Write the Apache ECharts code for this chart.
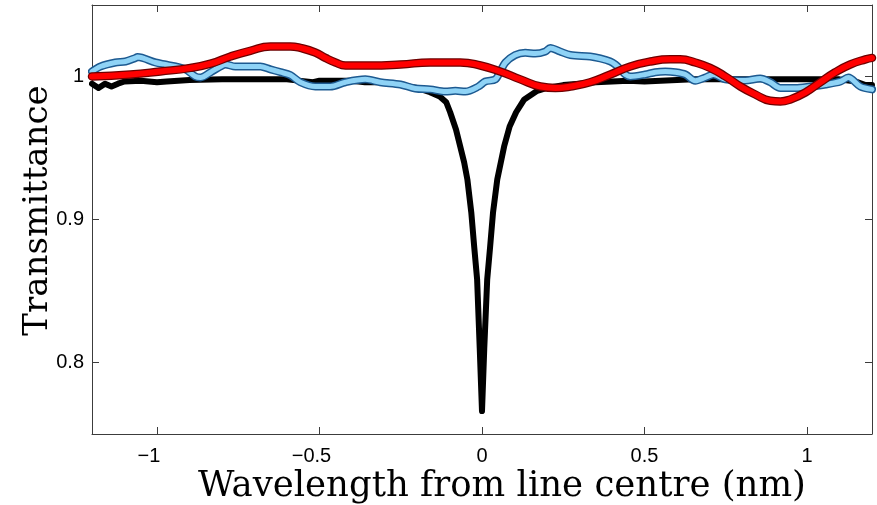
<!DOCTYPE html>
<html>
<head>
<meta charset="utf-8">
<script src="https://cdn.jsdelivr.net/npm/echarts@6/dist/echarts.min.js"></script>
<style>
html,body{margin:0;padding:0;background:#fff;}
#chart{width:877px;height:505px;}
</style>
</head>
<body>
<div id="chart"></div>
<script>
// ---- data ----
var blackX = [-1.2,-1.18,-1.16,-1.14,-1.12,-1.1,-1.05,-1.0,-0.97,-0.9,-0.8,-0.7,-0.6,-0.52,-0.5,-0.45,-0.4,-0.36,-0.3,-0.25,-0.2,-0.16,-0.13,-0.11,-0.098,-0.08,-0.067,-0.055,-0.045,-0.033,-0.024,-0.015,-0.007,0,0.007,0.016,0.025,0.034,0.047,0.068,0.085,0.105,0.13,0.17,0.2,0.25,0.3,0.35,0.4,0.45,0.5,0.55,0.6,0.65,0.7,0.8,0.9,1.0,1.1,1.15,1.18,1.2];
var blackY = [0.995,0.992,0.995,0.993,0.995,0.9965,0.997,0.996,0.9965,0.9975,0.998,0.998,0.998,0.996,0.997,0.997,0.997,0.996,0.996,0.994,0.992,0.989,0.986,0.982,0.975,0.963,0.951,0.940,0.928,0.905,0.881,0.858,0.81,0.766,0.81,0.858,0.881,0.905,0.928,0.951,0.965,0.975,0.984,0.990,0.992,0.994,0.995,0.996,0.9965,0.997,0.9965,0.997,0.9975,0.998,0.998,0.998,0.998,0.998,0.998,0.9965,0.994,0.994];

var blueX = [-1.2,-1.174,-1.128,-1.097,-1.066,-1.06,-1.005,-0.974,-0.943,-0.912,-0.882,-0.866,-0.835,-0.805,-0.789,-0.759,-0.713,-0.682,-0.651,-0.62,-0.59,-0.559,-0.513,-0.467,-0.42,-0.359,-0.313,-0.251,-0.205,-0.159,-0.113,-0.082,-0.051,-0.011,0.01,0.041,0.056,0.072,0.102,0.133,0.164,0.195,0.21,0.24,0.272,0.333,0.364,0.395,0.41,0.426,0.441,0.456,0.502,0.533,0.564,0.595,0.626,0.656,0.687,0.712,0.749,0.81,0.856,0.887,0.918,0.964,1.01,1.057,1.103,1.127,1.164,1.2];
var blueY = [1.0035,1.007,1.0098,1.0105,1.013,1.0136,1.0098,1.0084,1.007,1.005,1.000,0.9993,1.003,1.007,1.0084,1.007,1.007,1.007,1.005,1.003,1.001,0.996,0.993,0.993,0.996,0.998,0.996,0.9944,0.9916,0.991,0.9895,0.990,0.9895,0.993,0.9965,0.998,1.0035,1.0098,1.015,1.0166,1.016,1.0175,1.020,1.0175,1.015,1.014,1.0126,1.0105,1.0084,1.005,1.0014,1.000,1.0014,1.003,1.0035,1.003,1.0014,0.997,0.9993,1.0014,0.998,0.9972,0.9986,0.996,0.992,0.992,0.993,0.9944,0.9965,0.9993,0.993,0.991];

var redX = [-1.2,-1.082,-0.99,-0.897,-0.835,-0.774,-0.713,-0.651,-0.59,-0.559,-0.513,-0.482,-0.451,-0.42,-0.344,-0.251,-0.159,-0.067,-0.005,0.056,0.118,0.18,0.226,0.272,0.333,0.395,0.456,0.518,0.579,0.61,0.656,0.702,0.749,0.795,0.841,0.887,0.918,0.949,0.995,1.041,1.087,1.133,1.18,1.2];
var redY = [1.000,1.0014,1.0035,1.006,1.009,1.014,1.018,1.021,1.021,1.020,1.0168,1.013,1.0098,1.0077,1.0077,1.0084,1.0098,1.0098,1.0077,1.0035,0.998,0.993,0.992,0.993,0.996,1.0014,1.007,1.0105,1.012,1.012,1.0098,1.006,1.000,0.993,0.9874,0.983,0.9825,0.984,0.9888,0.996,1.003,1.0084,1.012,1.013];

var xTicks = [-1, -0.5, 0, 0.5, 1];
var yTicks = [0.8, 0.9, 1];
var xTitle = 'Wavelength from line centre (nm)';
var yTitle = 'Transmittance';

function zip(xs, ys){ return xs.map(function(x,i){ return [x, ys[i]]; }); }
function fmt(v){ return String(v).replace('-', '\u2212'); }
function fmtX(v){ return v < 0 ? '{neg|' + fmt(v) + '}' : fmt(v); }

var chart = echarts.init(document.getElementById('chart'), null, {renderer:'canvas'});
var fontSans = 'Liberation Sans, Arial, sans-serif';
var labelFont = {fontFamily:fontSans, fontSize:20, color:'#000'};
var axisLineStyle = {lineStyle:{color:'#3c3c3c', width:1}};

function xAx(pos, showLabel, showName){
  return {
    type:'value', position:pos, min:-1.2, max:1.2,
    axisLine:Object.assign({show:true, onZero:false}, axisLineStyle),
    axisTick:{show:true, inside:true, length:7, customValues:xTicks, lineStyle:{color:'#3c3c3c'}},
    axisLabel:Object.assign({show:showLabel, customValues:xTicks, margin:12, formatter:fmtX,
      rich:{neg:{fontFamily:fontSans, fontSize:20, color:'#000', padding:[0,16,0,0]}}}, labelFont),
    splitLine:{show:false},
    name: showName ? xTitle : '', nameLocation:'middle', nameGap:35, nameMoveOverlap:false,
    nameTextStyle:{fontFamily:'DejaVu Serif, serif', fontSize:35.5, color:'#000', padding:[0,0,0,40]}
  };
}
function yAx(pos, showLabel, showName){
  return {
    type:'value', position:pos, min:0.75, max:1.05,
    axisLine:Object.assign({show:true, onZero:false}, axisLineStyle),
    axisTick:{show:true, inside:true, length:7, customValues:yTicks, lineStyle:{color:'#3c3c3c'}},
    axisLabel:Object.assign({show:showLabel, customValues:yTicks, margin:8, formatter:fmt}, labelFont),
    splitLine:{show:false},
    name: showName ? yTitle : '', nameLocation:'middle', nameGap:37, nameRotate:90, nameMoveOverlap:false,
    nameTextStyle:{fontFamily:'DejaVu Serif, serif', fontSize:34, color:'#000', padding:[0,0,0,18]}
  };
}

function line(data, color, width, z, smooth){
  return {type:'line', data:data, showSymbol:false, smooth:smooth, z:z, silent:true,
    lineStyle:{color:color, width:width, cap:'round', join:'round'}};
}

chart.setOption({
  animation:false,
  backgroundColor:'#fff',
  grid:{left:92, right:5, top:5, bottom:71, containLabel:false, outerBoundsMode:'none'},
  xAxis:[xAx('bottom', true, true), xAx('top', false, false)],
  yAxis:[yAx('left', true, true), yAx('right', false, false)],
  series:[
    line(zip(blackX, blackY), '#000000', 6, 2, false),
    line(zip(blueX, blueY), '#1d5a91', 8, 3, 0.3),
    line(zip(blueX, blueY), '#8fd3f6', 5, 4, 0.3),
    line(zip(redX, redY), '#6e0000', 8.5, 5, 0.5),
    line(zip(redX, redY), '#ff0000', 6, 6, 0.5)
  ]
});
</script>
</body>
</html>
